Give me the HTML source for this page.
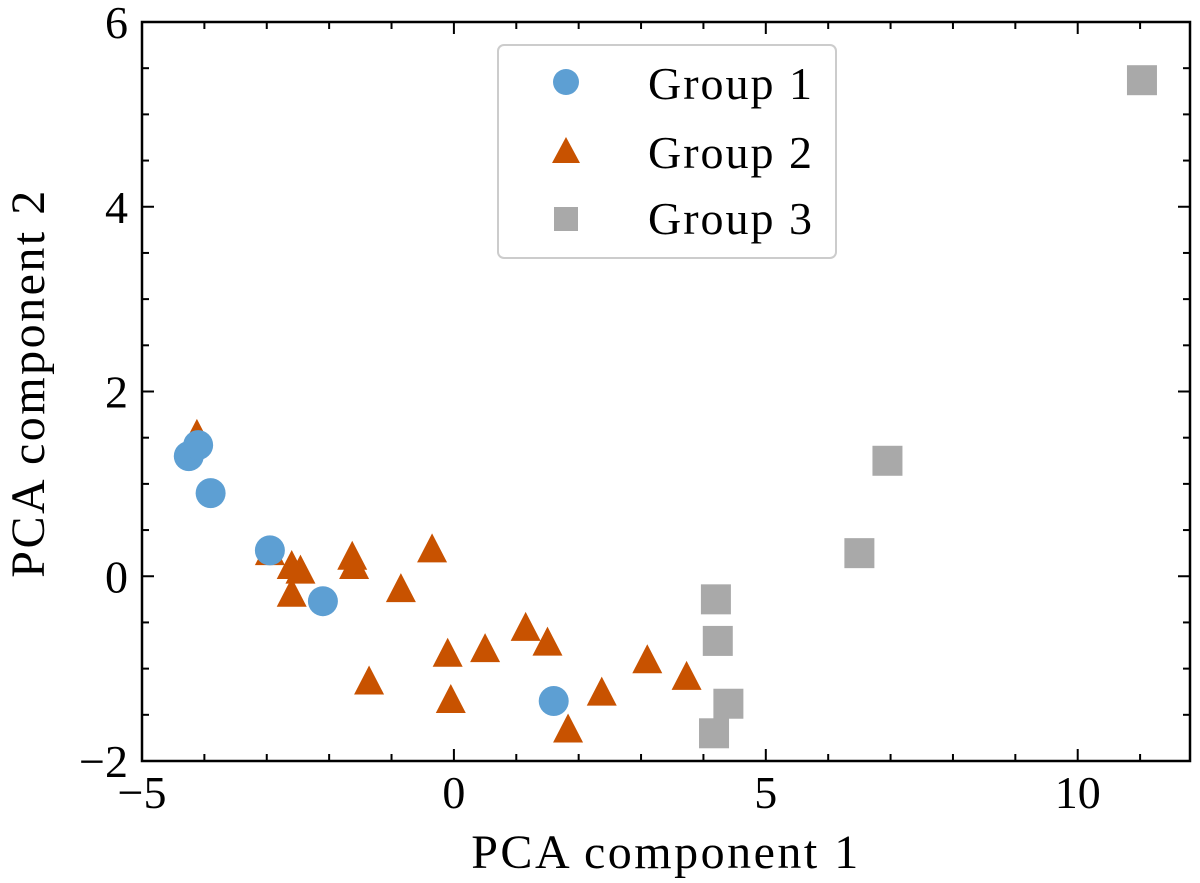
<!DOCTYPE html>
<html><head><meta charset="utf-8">
<style>
html,body{margin:0;padding:0;background:#fff;}
svg{display:block;font-family:"Liberation Serif",serif;}
</style></head>
<body>
<svg id="chart" width="1200" height="883" viewBox="0 0 1200 883">
<g id="marks"></g>
<rect x="142" y="22" width="1048" height="739" fill="none" stroke="#000" stroke-width="2.5"/>
<g id="ticks"></g>
<text x="666" y="868" font-size="48" letter-spacing="2.5" text-anchor="middle">PCA component 1</text>
<text transform="translate(44,383) rotate(-90)" font-size="48" letter-spacing="2.5" text-anchor="middle">PCA component 2</text>
<g>
<rect x="498" y="45" width="338" height="213" rx="6" fill="#fff" stroke="#ccc" stroke-width="2"/>
<g><circle cx="566" cy="82" r="13" fill="#5d9fd3"/><text x="648" y="99" font-size="46" letter-spacing="2">Group 1</text></g>
<g><polygon points="566,137 580,163 552,163" fill="#c85200"/><text x="648" y="168" font-size="46" letter-spacing="2">Group 2</text></g>
<g><rect x="554" y="207" width="24" height="24" fill="#a9a9a9"/><text x="648" y="234" font-size="46" letter-spacing="2">Group 3</text></g>
</g>
</svg>
<script>
const g1x=[-4.25,-4.1,-3.9,-2.95,-2.1,1.6];
const g1y=[1.3,1.42,0.9,0.28,-0.27,-1.35];
const g2x=[-4.12,-2.95,-2.6,-2.46,-2.6,-1.63,-1.6,-0.85,-0.35,-0.1,-0.05,-1.36,0.5,1.15,1.5,1.83,2.37,3.1,3.73];
const g2y=[1.52,0.25,0.1,0.05,-0.2,0.2,0.1,-0.15,0.28,-0.85,-1.35,-1.15,-0.8,-0.57,-0.73,-1.67,-1.27,-0.92,-1.1];
const g3x=[4.2,4.23,4.4,4.17,6.5,6.95,11.03];
const g3y=[-0.25,-0.7,-1.38,-1.7,0.25,1.25,5.37];
const xTicks=[-5,0,5,10];
const yTicks=[-2,0,2,4,6];
const xMin=-5,xMax=11.8,yMin=-2,yMax=6;
const L=142,R=1190,T=22,B=761;
const sx=v=>L+(v-xMin)/(xMax-xMin)*(R-L);
const sy=v=>B-(v-yMin)/(yMax-yMin)*(B-T);
const NS="http://www.w3.org/2000/svg";
const marks=document.getElementById('marks');
const ticks=document.getElementById('ticks');
function mk(tag,attrs,parent){const e=document.createElementNS(NS,tag);for(const k in attrs)e.setAttribute(k,attrs[k]);parent.appendChild(e);return e;}
g2x.forEach((x,i)=>{const cx=sx(x),cy=sy(g2y[i]);
 const e=mk('polygon',{points:`${cx},${cy-17} ${cx+15},${cy+12} ${cx-15},${cy+12}`,fill:'#c85200'},marks);
 
 });
g1x.forEach((x,i)=>{
 const e=mk('circle',{cx:sx(x),cy:sy(g1y[i]),r:15,fill:'#5d9fd3'},marks);
 
 });
g3x.forEach((x,i)=>{
 const e=mk('rect',{x:sx(x)-15,y:sy(g3y[i])-15,width:30,height:30,fill:'#a9a9a9'},marks);
 
 });
for(let v=-5;v<=11;v++){const x=sx(v);const maj=xTicks.includes(v);const len=maj?12:7;
 mk('line',{x1:x,y1:B,x2:x,y2:B-len,stroke:'#000','stroke-width':2},ticks);
 mk('line',{x1:x,y1:T,x2:x,y2:T+len,stroke:'#000','stroke-width':2},ticks);}
for(let v=-2;v<=6.001;v+=0.5){const y=sy(v);const maj=yTicks.includes(v);const len=maj?12:7;
 mk('line',{x1:L,y1:y,x2:L+len,y2:y,stroke:'#000','stroke-width':2},ticks);
 mk('line',{x1:R,y1:y,x2:R-len,y2:y,stroke:'#000','stroke-width':2},ticks);}
xTicks.forEach(v=>{const t=mk('text',{x:sx(v),y:808,'font-size':46,'text-anchor':'middle'},ticks);
 t.textContent=v<0?'\u2212'+Math.abs(v):String(v);
 
 });
yTicks.forEach(v=>{const t=mk('text',{x:128,y:sy(v)+16,'font-size':46,'text-anchor':'end'},ticks);
 t.textContent=v<0?'\u2212'+Math.abs(v):String(v);
 
 });
</script>
</body></html>
